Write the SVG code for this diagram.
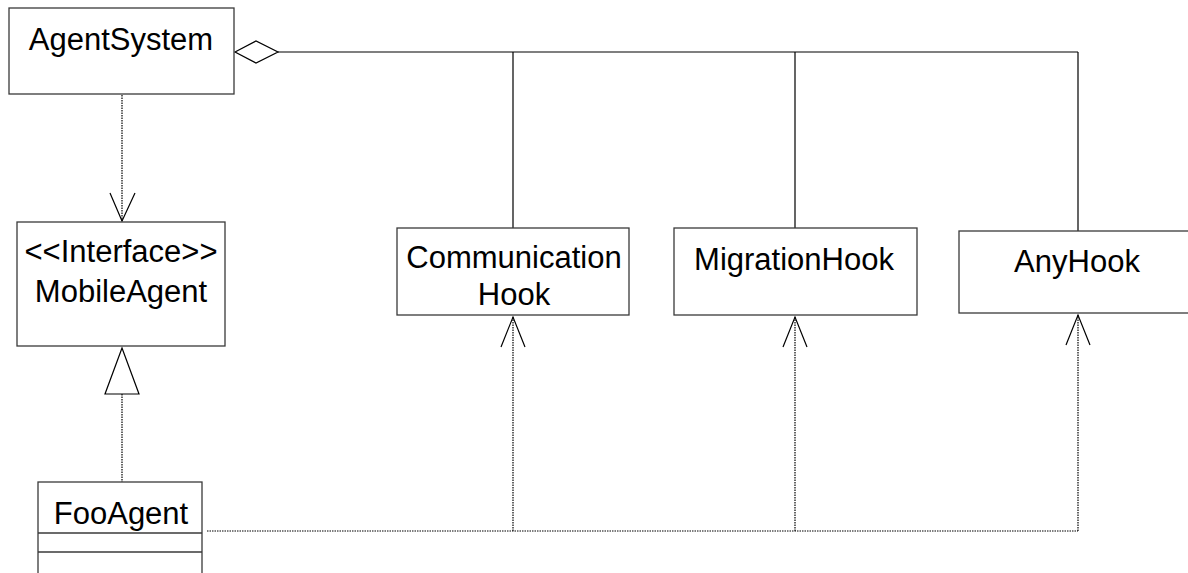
<svg xmlns="http://www.w3.org/2000/svg" width="1188" height="573" viewBox="0 0 1188 573">
  <style>
    .box { fill: #ffffff; stroke: #3a3a3a; stroke-width: 1.3; }
    .lbl { font-family: "Liberation Sans", Arial, sans-serif; font-size: 31px; fill: #000; text-anchor: middle; }
    .solid { fill: none; stroke: #000; stroke-width: 1.2; }
    .dotted { fill: none; stroke: #000; stroke-width: 1.2; stroke-dasharray: 1.5 1; }
    .head { fill: none; stroke: #000; stroke-width: 1.2; }
    .hollow { fill: #ffffff; stroke: #000; stroke-width: 1.2; }
  </style>

  <rect width="1188" height="573" fill="#ffffff"/>

  <!-- connectors -->
  <g id="connectors">
    <!-- aggregation from AgentSystem to the hooks -->
    <polygon class="hollow" points="235,52 256,41 278,52 256,63"/>
    <path class="solid" d="M278,52 H1078 M513,52 V228 M795,52 V228 M1078,52 V231"/>

    <!-- AgentSystem uses MobileAgent -->
    <path class="dotted" d="M122,95 V221"/>
    <path class="head" d="M110,193 L122,221 L135,193"/>

    <!-- FooAgent realizes MobileAgent -->
    <path class="dotted" d="M122,394 V482"/>
    <polygon class="hollow" points="122,348 139,394 105,394"/>

    <!-- FooAgent depends on the hooks -->
    <path class="dotted" d="M207,531 H1078 M513,531 V317 M795,531 V317 M1078,531 V315"/>
    <path class="head" d="M501,347 L513,317 L525,347"/>
    <path class="head" d="M783,347 L795,317 L807,347"/>
    <path class="head" d="M1066,345 L1078,315 L1090,345"/>
  </g>

  <g id="AgentSystem">
    <rect class="box" x="9" y="8" width="225" height="86"/>
    <text class="lbl" x="121" y="50">AgentSystem</text>
  </g>

  <g id="MobileAgent">
    <rect class="box" x="17" y="222" width="208" height="124"/>
    <text class="lbl" x="121" y="262">&lt;&lt;Interface&gt;&gt;</text>
    <text class="lbl" x="121" y="302">MobileAgent</text>
  </g>

  <g id="FooAgent">
    <rect class="box" x="38" y="482" width="164" height="100"/>
    <line class="box" x1="38" y1="533" x2="202" y2="533"/>
    <line class="box" x1="38" y1="552" x2="202" y2="552"/>
    <text class="lbl" x="121" y="524">FooAgent</text>
  </g>

  <g id="CommunicationHook">
    <rect class="box" x="397" y="228" width="232" height="87"/>
    <text class="lbl" x="514" y="268">Communication</text>
    <text class="lbl" x="514" y="305">Hook</text>
  </g>

  <g id="MigrationHook">
    <rect class="box" x="674" y="228" width="243" height="87"/>
    <text class="lbl" x="794" y="270">MigrationHook</text>
  </g>

  <g id="AnyHook">
    <rect class="box" x="959" y="231" width="240" height="82"/>
    <text class="lbl" x="1077" y="272">AnyHook</text>
  </g>
</svg>
